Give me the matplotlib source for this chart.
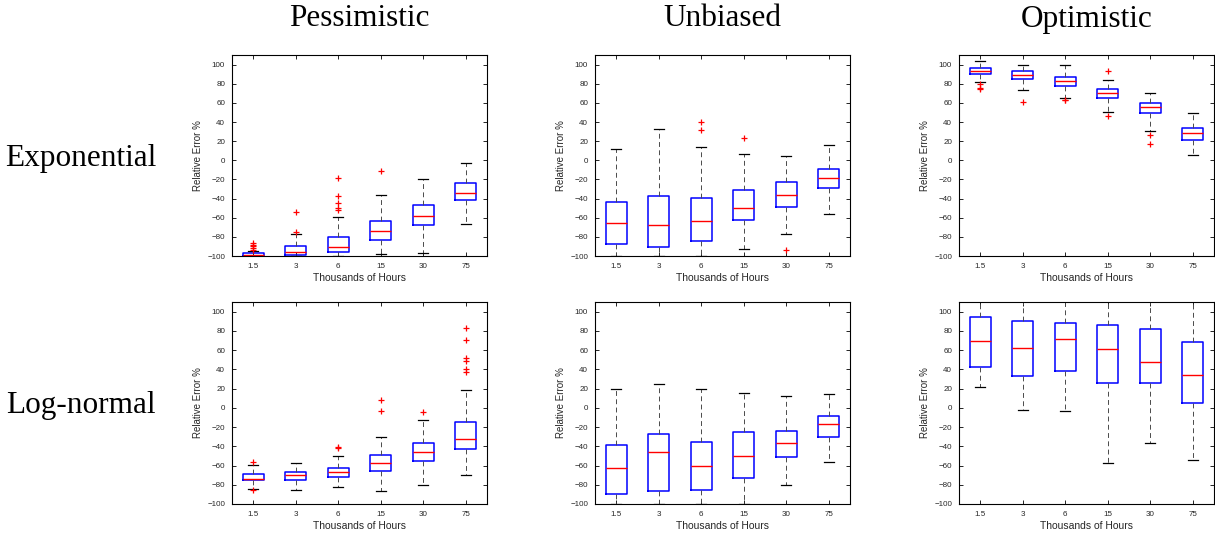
import matplotlib
matplotlib.use("Agg")
import matplotlib.pyplot as plt

hours = ["1.5", "3", "6", "15", "30", "75"]
col_titles = ["Pessimistic", "Unbiased", "Optimistic"]
row_titles = ["Exponential", "Log-normal"]

# Exponential / Pessimistic
exp_pes_med = [-99, -96, -91, -74, -58, -34]
exp_pes_q1 = [-100, -98.6, -96.2, -83.6, -67.7, -41.5]
exp_pes_q3 = [-97.2, -89.5, -79.8, -63, -47.2, -24]
exp_pes_lo = [-100, -100, -100, -98, -97.2, -67]
exp_pes_hi = [-95, -76.7, -58.9, -36.2, -19.8, -3]
exp_pes_fl = [[-86, -88, -90, -92, -94], [-54, -75], [-18, -37, -45, -50, -52], [-11], [], []]

# Exponential / Unbiased
exp_unb_med = [-65.6, -67.4, -63.5, -50.3, -36.5, -19]
exp_unb_q1 = [-87.2, -90.6, -84.7, -62.2, -49.3, -29]
exp_unb_q3 = [-44.1, -37.2, -38.9, -31.2, -23.2, -9]
exp_unb_lo = [-100, -100, -100, -92.4, -77, -56]
exp_unb_hi = [11.8, 32.6, 14.2, 6.9, 4.2, 15.5]
exp_unb_fl = [[], [], [39.6, 31.9], [23.3], [-93.8], []]

# Exponential / Optimistic
exp_opt_med = [93.4, 89.6, 82.6, 70.8, 55.2, 28.1]
exp_opt_q1 = [90.6, 85.4, 78.1, 64.6, 49, 21.5]
exp_opt_q3 = [96.5, 93.4, 87.5, 74.7, 60.1, 33.7]
exp_opt_lo = [81.9, 73.6, 64.6, 50, 30.9, 5.2]
exp_opt_hi = [103.8, 99.7, 99.7, 84.4, 70.8, 49.3]
exp_opt_fl = [[80.2, 75.3, 74], [60.4], [63.5, 62.8], [93, 46.5], [26.4, 17], []]

# Log-normal / Pessimistic
log_pes_med = [-73.6, -70.1, -66.3, -57.6, -45.8, -32]
log_pes_q1 = [-75.3, -75.3, -71.8, -65.6, -54.9, -43]
log_pes_q3 = [-68.7, -66.3, -62.1, -49.2, -36.5, -14.5]
log_pes_lo = [-84.7, -85, -81.9, -86.8, -80.2, -70]
log_pes_hi = [-59, -56.9, -49.6, -30.1, -12.8, 19]
log_pes_fl = [[-56.5, -85.4], [], [-41.6, -40.5], [8.2, -3], [-4.5], [83, 70, 52, 49, 40, 37]]

# Log-normal / Unbiased
log_unb_med = [-62.4, -46.1, -60.3, -49.6, -37.1, -17]
log_unb_q1 = [-89.9, -86.1, -85, -72.9, -51, -30]
log_unb_q3 = [-38.8, -27, -36, -25.2, -24.3, -8]
log_unb_lo = [-100, -100, -100, -100, -79.9, -56]
log_unb_hi = [20, 25.2, 19.7, 15.8, 11.8, 14]
log_unb_fl = [[], [], [], [], [], []]

# Log-normal / Optimistic
log_opt_med = [69.4, 62.4, 71.1, 61.4, 47.5, 34.4]
log_opt_q1 = [42.6, 33.2, 38.4, 25.9, 25.9, 5.5]
log_opt_q3 = [94.4, 90.3, 88.2, 86.4, 81.9, 68]
log_opt_lo = [21.4, -2.6, -3, -57.6, -36.7, -53.9]
log_opt_hi = [120, 120, 120, 120, 120, 120]
log_opt_fl = [[], [], [], [], [], []]

panels = [
    [(exp_pes_med, exp_pes_q1, exp_pes_q3, exp_pes_lo, exp_pes_hi, exp_pes_fl),
     (exp_unb_med, exp_unb_q1, exp_unb_q3, exp_unb_lo, exp_unb_hi, exp_unb_fl),
     (exp_opt_med, exp_opt_q1, exp_opt_q3, exp_opt_lo, exp_opt_hi, exp_opt_fl)],
    [(log_pes_med, log_pes_q1, log_pes_q3, log_pes_lo, log_pes_hi, log_pes_fl),
     (log_unb_med, log_unb_q1, log_unb_q3, log_unb_lo, log_unb_hi, log_unb_fl),
     (log_opt_med, log_opt_q1, log_opt_q3, log_opt_lo, log_opt_hi, log_opt_fl)],
]

W, H = 1215, 539
fig = plt.figure(figsize=(W / 100, H / 100), dpi=100)
plt.rcParams['font.family'] = ['Liberation Sans', 'DejaVu Sans']

lefts = [232, 595, 959]
axw = 255
row_tb = [(55, 256), (302, 504)]
txtcol = '#262626'

for r in range(2):
    top, bot = row_tb[r]
    for c in range(3):
        ax = fig.add_axes([lefts[c] / W, 1 - bot / H, axw / W, (bot - top) / H])
        med, q1, q3, lo, hi, fl = panels[r][c]
        stats = []
        for i in range(len(hours)):
            stats.append(dict(med=med[i], q1=q1[i], q3=q3[i], whislo=lo[i],
                              whishi=hi[i], fliers=fl[i], label=hours[i]))
        ax.bxp(stats, positions=list(range(1, 7)), widths=0.5, capwidths=0.24,
               showfliers=True,
               boxprops=dict(color='#0000ff', linewidth=1.1),
               medianprops=dict(color='#ff0000', linewidth=1.0),
               whiskerprops=dict(color='#4a4a4a', linewidth=0.7, linestyle=(0, (5, 3.5))),
               capprops=dict(color='#000000', linewidth=0.9),
               flierprops=dict(marker='+', markeredgecolor='#ff0000', markersize=4.5,
                               markeredgewidth=0.9, linestyle='none'))
        ax.set_xlim(0.5, 6.5)
        ax.set_ylim(-100, 110)
        ax.set_yticks(range(-100, 101, 20))
        ax.set_xticks(range(1, 7))
        ax.set_xticklabels(hours)
        ax.tick_params(direction='in', length=3, width=0.6, labelsize=5.8,
                       colors='#000000', labelcolor=txtcol, top=True, right=True, pad=5)
        for s in ax.spines.values():
            s.set_linewidth(0.8)
            s.set_color('#000000')
        ax.set_xlabel('Thousands of Hours', fontsize=7.5, color=txtcol, labelpad=2)
        ax.set_ylabel('Relative Error %', fontsize=7, color=txtcol, labelpad=3)

for c in range(3):
    fig.text((lefts[c] + axw / 2) / W, 1 - 19 / H, col_titles[c], ha='center', va='center',
             fontsize=22.5, family=['Liberation Serif', 'DejaVu Serif'])
for r, yc in enumerate([159, 406]):
    fig.text(81 / W, 1 - yc / H, row_titles[r], ha='center', va='center',
             fontsize=22.5, family=['Liberation Serif', 'DejaVu Serif'])

fig.savefig('out.png', dpi=100)
